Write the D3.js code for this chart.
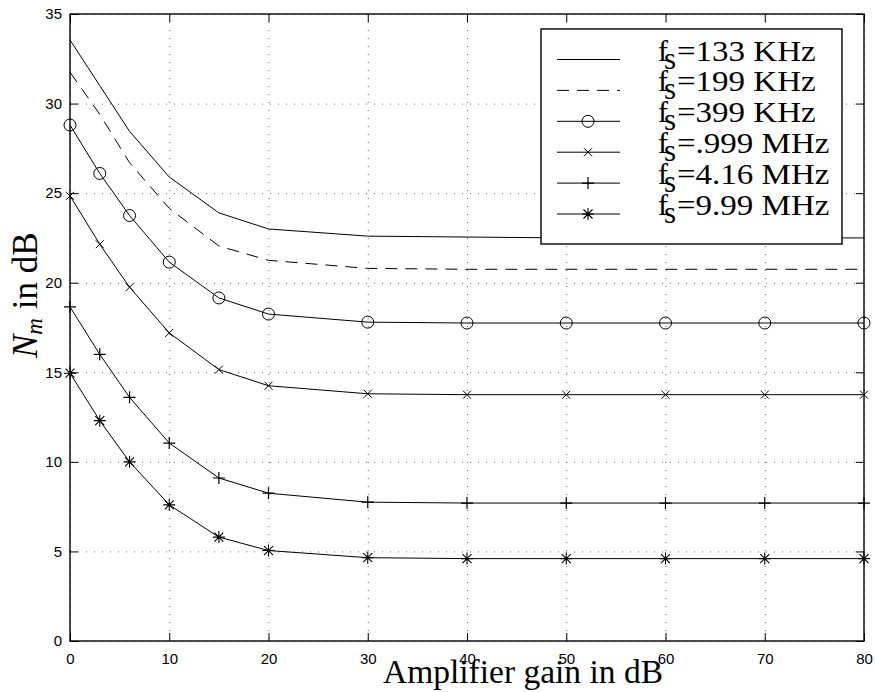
<!DOCTYPE html>
<html>
<head>
<meta charset="utf-8">
<script src="https://cdn.jsdelivr.net/npm/d3@7/dist/d3.min.js"></script>
<style>
  html, body { margin: 0; padding: 0; background: #fff; }
  svg { display: block; }
</style>
</head>
<body>
<svg id="chart" width="875" height="692"></svg>
<script>
// Amplifier gain (dB) at which each noise figure was evaluated
const gain = [0, 3, 6, 10, 15, 20, 30, 40, 50, 60, 70, 80];

// N_m (dB) for each sampling frequency
const nm133k = [33.55, 31.0, 28.45, 25.9, 23.9, 23.0, 22.6, 22.55, 22.5, 22.5, 22.5, 22.5];
const nm199k = [31.75, 29.4, 26.7, 24.15, 22.05, 21.25, 20.8, 20.75, 20.75, 20.75, 20.75, 20.75];
const nm399k = [28.8, 26.1, 23.75, 21.15, 19.15, 18.25, 17.8, 17.75, 17.75, 17.75, 17.75, 17.75];
const nm999k = [24.85, 22.15, 19.75, 17.2, 15.15, 14.25, 13.8, 13.75, 13.75, 13.75, 13.75, 13.75];
const nm416m = [18.65, 16.0, 13.6, 11.05, 9.1, 8.25, 7.75, 7.7, 7.7, 7.7, 7.7, 7.7];
const nm999m = [14.95, 12.3, 10.0, 7.6, 5.8, 5.05, 4.65, 4.6, 4.6, 4.6, 4.6, 4.6];

const seriesLabels = ["=133 KHz", "=199 KHz", "=399 KHz", "=.999 MHz", "=4.16 MHz", "=9.99 MHz"];
const seriesValues = [nm133k, nm199k, nm399k, nm999k, nm416m, nm999m];
const seriesMarkers = ["none", "none", "circle", "cross", "plus", "star"];
const seriesDashed = [false, true, false, false, false, false];

const xTicks = [0, 10, 20, 30, 40, 50, 60, 70, 80];
const yTicks = [0, 5, 10, 15, 20, 25, 30, 35];

const svg = d3.select("#chart");
const pLeft = 70, pRight = 864, pTop = 14, pBottom = 641;

const x = d3.scaleLinear().domain([0, 80]).range([pLeft, pRight]);
const y = d3.scaleLinear().domain([0, 35]).range([pBottom, pTop]);

const sans = "'Liberation Sans', Arial, Helvetica, sans-serif";
const serif = "'Liberation Serif', 'Times New Roman', serif";

// dotted grid
const grid = svg.append("g").attr("stroke", "#666").attr("stroke-width", 1)
  .attr("stroke-dasharray", "1,7");
grid.selectAll("line.v").data(xTicks).join("line").attr("class", "v")
  .attr("x1", d => x(d) + 0.5).attr("x2", d => x(d) + 0.5)
  .attr("y1", pTop).attr("y2", pBottom);
grid.selectAll("line.h").data(yTicks).join("line").attr("class", "h")
  .attr("y1", d => y(d) + 0.5).attr("y2", d => y(d) + 0.5)
  .attr("x1", pLeft).attr("x2", pRight);

// axes with inward ticks on all four sides
function styleAxis(g) {
  g.select(".domain").remove();
  g.selectAll(".tick line").attr("stroke", "#000").attr("stroke-width", 1);
  g.selectAll(".tick text").attr("fill", "#000")
    .style("font-family", sans).style("font-size", "15px");
}
svg.append("g").attr("transform", `translate(0,${pBottom})`)
  .call(d3.axisBottom(x).tickValues(xTicks).tickSizeInner(-8).tickSizeOuter(0).tickPadding(12))
  .call(styleAxis);
svg.append("g").attr("transform", `translate(${pLeft},0)`)
  .call(d3.axisLeft(y).tickValues(yTicks).tickSizeInner(-8).tickSizeOuter(0).tickPadding(8))
  .call(styleAxis);
svg.append("g").attr("transform", `translate(0,${pTop})`)
  .call(d3.axisTop(x).tickValues(xTicks).tickSizeInner(-8).tickSizeOuter(0).tickFormat(""))
  .call(styleAxis);
svg.append("g").attr("transform", `translate(${pRight},0)`)
  .call(d3.axisRight(y).tickValues(yTicks).tickSizeInner(-8).tickSizeOuter(0).tickFormat(""))
  .call(styleAxis);

// plot frame
svg.append("rect").attr("x", pLeft).attr("y", pTop)
  .attr("width", pRight - pLeft).attr("height", pBottom - pTop)
  .attr("fill", "none").attr("stroke", "#000").attr("stroke-width", 1.4);

// marker drawing
function drawMarker(g, type, cx, cy) {
  const s = g.append("g").attr("transform", `translate(${cx},${cy})`)
    .attr("stroke", "#000").attr("stroke-width", 1).attr("fill", "none");
  if (type === "circle") {
    s.append("circle").attr("r", 6);
  } else if (type === "cross") {
    s.append("path").attr("d", "M-4,-4L4,4M-4,4L4,-4");
  } else if (type === "plus") {
    s.append("path").attr("d", "M-6,0L6,0M0,-6L0,6").attr("stroke-width", 1.2);
  } else if (type === "star") {
    s.append("path").attr("d", "M-6,0L6,0M0,-6L0,6M-4.5,-4.5L4.5,4.5M-4.5,4.5L4.5,-4.5")
      .attr("stroke-width", 1.1);
    s.append("circle").attr("r", 1.6).attr("fill", "#000").attr("stroke", "none");
  }
}

const line = d3.line().x((d, i) => x(gain[i])).y(d => y(d));
const plot = svg.append("g");
seriesValues.forEach((vals, k) => {
  plot.append("path").datum(vals).attr("d", line)
    .attr("fill", "none").attr("stroke", "#000").attr("stroke-width", 1)
    .attr("stroke-dasharray", seriesDashed[k] ? "12,8" : null);
  if (seriesMarkers[k] !== "none") {
    vals.forEach((v, i) => drawMarker(plot, seriesMarkers[k], x(gain[i]), y(v)));
  }
});

// legend
const legend = svg.append("g");
legend.append("rect").attr("x", 541).attr("y", 29).attr("width", 301).attr("height", 215)
  .attr("fill", "#fff").attr("stroke", "#000").attr("stroke-width", 1.4);
seriesLabels.forEach((lab, k) => {
  const ry = 59.5 + 30.9 * k;
  legend.append("line").attr("x1", 557).attr("x2", 620).attr("y1", ry).attr("y2", ry)
    .attr("stroke", "#000").attr("stroke-width", 1)
    .attr("stroke-dasharray", seriesDashed[k] ? "12,8" : null);
  if (seriesMarkers[k] !== "none") drawMarker(legend, seriesMarkers[k], 588, ry);
  legend.append("text").attr("x", 658).attr("y", ry + 1)
    .style("font-family", serif).style("font-size", "30px").text("f");
  const t = legend.append("text").attr("x", 677).attr("y", ry + 1)
    .style("font-family", serif).style("font-size", "30px").text(lab);
  const w = t.node().getComputedTextLength();
  t.attr("textLength", w * 1.1).attr("lengthAdjust", "spacingAndGlyphs");
  legend.append("text").attr("x", 664).attr("y", ry + 9)
    .style("font-family", serif).style("font-size", "31px").text("s");
});

// axis titles
const xt = svg.append("text").attr("x", 383).attr("y", 683)
  .style("font-family", serif).style("font-size", "33.5px").text("Amplifier gain in dB");
xt.attr("textLength", 280).attr("lengthAdjust", "spacingAndGlyphs");

const yt = svg.append("text").attr("transform", "translate(37,358) rotate(-90)")
  .style("font-family", serif).style("font-size", "35px");
yt.append("tspan").style("font-style", "italic").text("N");
yt.append("tspan").style("font-style", "italic").style("font-size", "23px")
  .attr("dy", 5).text("m");
yt.append("tspan").attr("dy", -5).text(" in dB");
</script>
</body>
</html>
